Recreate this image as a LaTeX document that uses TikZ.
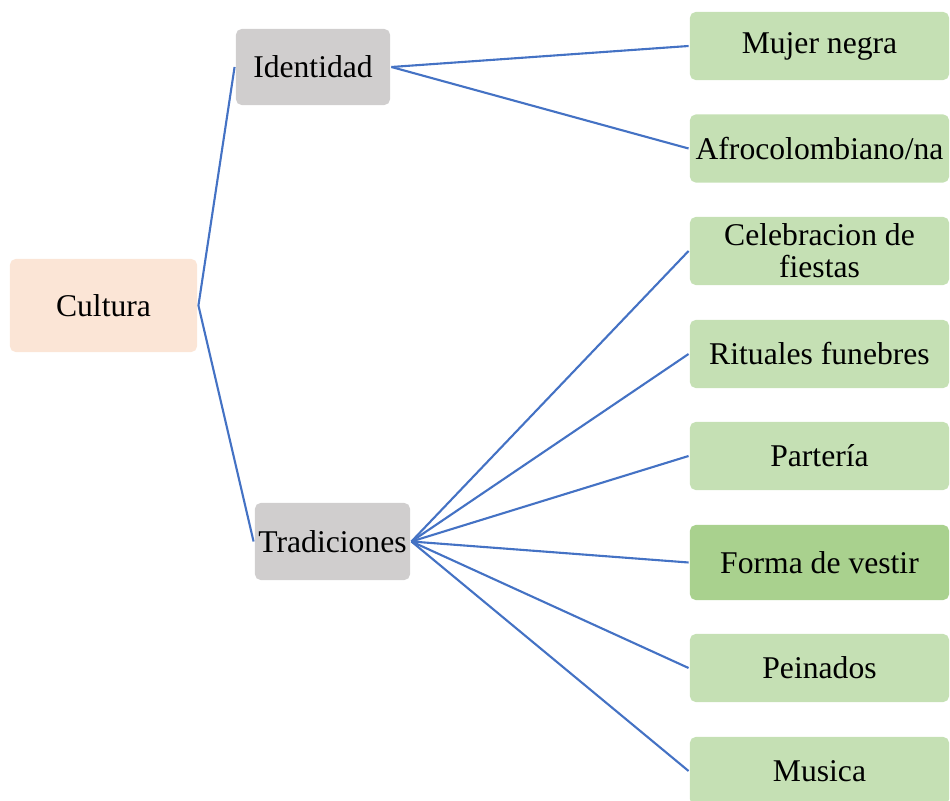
\documentclass[tikz,border=0pt]{standalone}
\usepackage{fontspec}
\setmainfont{Liberation Serif}
\newfontfamily\boxfont{Liberation Serif}
\usepackage{tikz}

\definecolor{peach}{HTML}{FBE5D6}
\definecolor{grayish}{HTML}{D0CECE}
\definecolor{lightgreen}{HTML}{C5E0B4}
\definecolor{midgreen}{HTML}{A9D18E}
\definecolor{linkblue}{HTML}{4472C4}

\tikzset{
	box/.style = {rounded corners = 4pt, inner sep = 0pt, outer sep = 1pt, align = center,
		font = \boxfont\fontsize{22.5}{23}\selectfont},
	leaf/.style = {box, fill = lightgreen, minimum width = 6.475cm, minimum height = 1.7cm},
	link/.style = {draw = linkblue, line width = 1.5pt}
}

\begin{document}
\begin{tikzpicture}[x = 0.025cm, y = -0.025cm]
				\useasboundingbox (0, 0) rectangle (950, 801);

				\node[box, fill = peach, minimum width = 4.675cm, minimum height = 2.325cm](cultura) at (103.5, 305.5) {Cultura};
				\node[box, fill = grayish, minimum width = 3.85cm, minimum height = 1.9cm](identidad) at (313, 67) {Identidad};
				\node[box, fill = grayish, minimum width = 3.875cm, minimum height = 1.925cm](tradiciones) at (332.5, 541.5) {Tradiciones};

				\node[leaf](mujer) at (819.5, 46) {Mujer negra};
				\node[leaf](afro) at (819.5, 148.5) {Afrocolombiano/na};
				\node[leaf](fiestas) at (819.5, 251) {Celebracion de\\fiestas};
				\node[leaf](rituales) at (819.5, 354) {Rituales funebres};
				\node[leaf](parteria) at (819.5, 456) {Partería};
				\node[leaf, fill = midgreen, minimum height = 1.875cm](vestir) at (819.5, 562.5) {Forma de vestir};
				\node[leaf](peinados) at (819.5, 668) {Peinados};
				\node[leaf](musica) at (819.5, 771) {Musica};

				\draw[link] (identidad.west)--(cultura.east)--(tradiciones.west);
				\draw[link] (identidad.east)--(mujer.west);
				\draw[link] (identidad.east)--(afro.west);

				\draw[link] (tradiciones.east)--(fiestas.west);
				\draw[link] (tradiciones.east)--(rituales.west);
				\draw[link] (tradiciones.east)--(parteria.west);
				\draw[link] (tradiciones.east)--(vestir.west);
				\draw[link] (tradiciones.east)--(peinados.west);
				\draw[link] (tradiciones.east)--(musica.west);
			\end{tikzpicture}
\end{document}
